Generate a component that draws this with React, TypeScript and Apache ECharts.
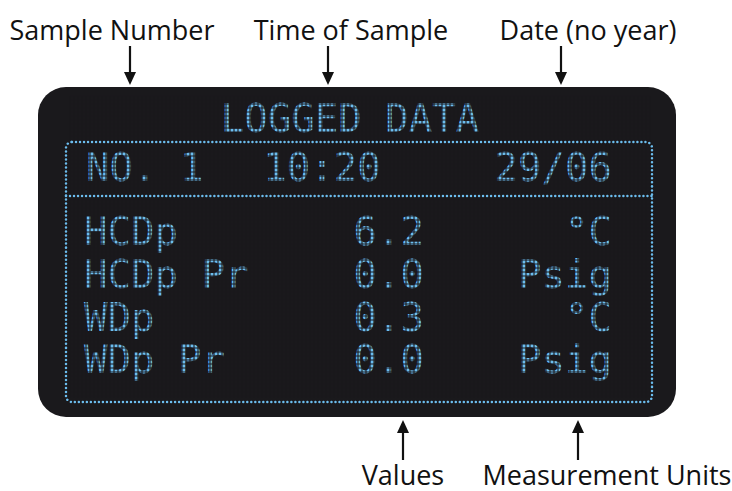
import React, { useEffect, useRef } from "react";
import * as echarts from "echarts";

const TITLE = "LOGGED DATA";
const SAMPLE_NO = "NO. 1";
const SAMPLE_TIME = "10:20";
const SAMPLE_DATE = "29/06";
const ROW_LABELS = ["HCDp", "HCDp Pr", "WDp", "WDp Pr"];
const ROW_VALUES = ["6.2", "0.0", "0.3", "0.0"];
const ROW_UNITS = ["°C", "Psig", "°C", "Psig"];
const TOP_NOTES = ["Sample Number", "Time of Sample", "Date (no year)"];
const BOTTOM_NOTES = ["Values", "Measurement Units"];

const LCD = "#6cbdee";
const BG = "#1a191c";
const MONO = "DejaVu Sans Mono";
const SANS = "Open Sans";

export default function App() {
  const ref = useRef<HTMLDivElement>(null);
  useEffect(() => {
    if (!ref.current) return;
    const chart = echarts.init(ref.current, null, { renderer: "svg" });
    const els: any[] = [];
    // panel
    els.push({ type: "rect", shape: { x: 38, y: 87, width: 638, height: 330, r: 28 }, style: { fill: BG } });

    const lcdText = (text: string, x: number, y: number, align: string, size = 39) => ({
      type: "text",
      style: { text, x, y, fill: LCD, font: `${size}px "${MONO}"`, textAlign: align, textVerticalAlign: "middle" },
    });
    els.push(lcdText(TITLE, 350, 118, "center"));
    els.push(lcdText(SAMPLE_NO, 86, 167, "left"));
    els.push(lcdText(SAMPLE_TIME, 322, 167, "center"));
    els.push(lcdText(SAMPLE_DATE, 612, 167, "right"));
    const rowY = [231, 274, 317, 359];
    ROW_LABELS.forEach((t, i) => els.push(lcdText(t, 84, rowY[i], "left")));
    ROW_VALUES.forEach((t, i) => els.push(lcdText(t, 424, rowY[i], "right")));
    ROW_UNITS.forEach((t, i) => els.push(lcdText(t, 612, rowY[i], "right")));

    // dot-matrix mask
    const pitch = 4;
    for (let x = 70; x <= 650; x += pitch) {
      els.push({ type: "line", shape: { x1: x, y1: 96, x2: x, y2: 398 }, style: { stroke: BG, lineWidth: 1.1 } });
    }
    for (let y = 96; y <= 398; y += pitch) {
      els.push({ type: "line", shape: { x1: 70, y1: y, x2: 650, y2: y }, style: { stroke: BG, lineWidth: 1.1 } });
    }

    // dotted frame
    els.push({
      type: "rect",
      shape: { x: 66, y: 142, width: 586, height: 260, r: 6 },
      style: { fill: "none", stroke: LCD, lineWidth: 2.5, lineDash: [0.01, 4], lineCap: "round" },
    });
    els.push({
      type: "line",
      shape: { x1: 66, y1: 196, x2: 652, y2: 196 },
      style: { stroke: LCD, lineWidth: 2.5, lineDash: [0.01, 4], lineCap: "round" },
    });

    // annotations
    const noteX = [112, 351, 588];
    const arrowX = [130, 328, 561];
    TOP_NOTES.forEach((t, i) => {
      els.push({ type: "text", style: { text: t, x: noteX[i], y: 29, fill: "#111", font: `27px "${SANS}"`, textAlign: "center", textVerticalAlign: "middle" } });
      els.push({ type: "line", shape: { x1: arrowX[i], y1: 46, x2: arrowX[i], y2: 76 }, style: { stroke: "#111", lineWidth: 2.2 } });
      els.push({ type: "polygon", shape: { points: [[arrowX[i] - 6, 72], [arrowX[i] + 6, 72], [arrowX[i], 85]] }, style: { fill: "#111" } });
    });
    const bNoteX = [403, 607];
    const bArrowX = [403, 578];
    BOTTOM_NOTES.forEach((t, i) => {
      els.push({ type: "text", style: { text: t, x: bNoteX[i], y: 474, fill: "#111", font: `27px "${SANS}"`, textAlign: "center", textVerticalAlign: "middle" } });
      els.push({ type: "line", shape: { x1: bArrowX[i], y1: 428, x2: bArrowX[i], y2: 460 }, style: { stroke: "#111", lineWidth: 2.2 } });
      els.push({ type: "polygon", shape: { points: [[bArrowX[i] - 6, 433], [bArrowX[i] + 6, 433], [bArrowX[i], 420]] }, style: { fill: "#111" } });
    });

    chart.setOption({ animation: false, graphic: { elements: els } });
    return () => chart.dispose();
  }, []);
  return <div ref={ref} style={{ width: 732, height: 491, position: "absolute", left: 0, top: 0, background: "#fff" }} />;
}
